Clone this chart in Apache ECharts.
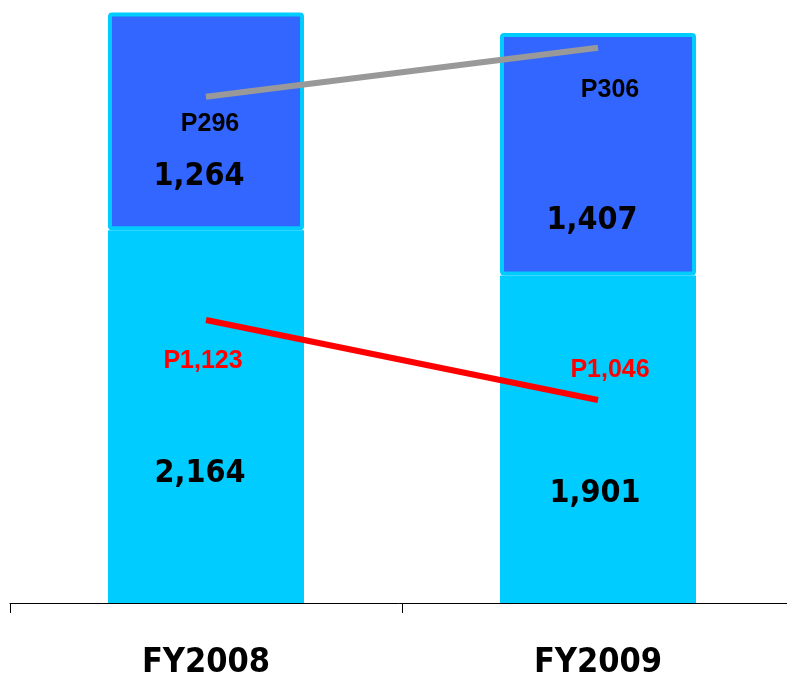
<!DOCTYPE html>
<html>
<head>
<meta charset="utf-8">
<script src="https://cdn.jsdelivr.net/npm/echarts@6/dist/echarts.min.js"></script>
<style>
html,body{margin:0;padding:0;background:#fff;}
#chart{width:787px;height:679px;}
</style>
</head>
<body>
<div id="chart"></div>
<script>
const categories = ['FY2008', 'FY2009'];
const bottomValues = [2164, 1901];
const topValues = [1264, 1407];
const grayLineValues = [296, 306];
const redLineValues = [1123, 1046];

const NARROW = '"DejaVu Sans Condensed", "Liberation Sans Narrow", "Arial Narrow", sans-serif';
const WIDE = '"Liberation Sans", Arial, sans-serif';

const fmt = v => v.toLocaleString('en-US');

const bottomOffsets = [[-6, 57], [-3, 54]];
const topOffsets = [[-7, 55], [-6, 66]];
const grayOffsets = [[4, 27], [12, 42]];
const redOffsets = [[-3, 41], [12, -30]];

const bigLabel = {
  show: true, position: 'inside', color: '#000', fontFamily: NARROW,
  fontWeight: 'bold', fontSize: 32, formatter: p => fmt(p.value)
};

const chart = echarts.init(document.getElementById('chart'));
chart.setOption({
  animation: false,
  grid: { left: 10, width: 784, top: 0, height: 603, outerBoundsMode: 'none', containLabel: false },
  xAxis: {
    type: 'category', data: categories,
    axisLine: { lineStyle: { color: '#000', width: 1 } },
    axisTick: { show: true, length: 10, lineStyle: { color: '#000' } },
    axisLabel: { color: '#000', fontFamily: NARROW, fontWeight: 'bold', fontSize: 34, margin: 43 }
  },
  yAxis: [
    { type: 'value', min: 0, max: 3500, show: false, splitLine: { show: false } },
    { type: 'value', min: 192.7, max: 315.76, show: false, splitLine: { show: false } },
    { type: 'value', min: 850.6, max: 1431, show: false, splitLine: { show: false } }
  ],
  series: [
    {
      type: 'bar', stack: 'total', barWidth: 196, yAxisIndex: 0,
      itemStyle: { color: '#00CCFF', borderColor: '#00CCFF', borderWidth: 4 },
      data: bottomValues.map((v, i) => ({ value: v, label: Object.assign({}, bigLabel, { offset: bottomOffsets[i] }) })),
      label: bigLabel
    },
    {
      type: 'bar', stack: 'total', barWidth: 196, yAxisIndex: 0,
      itemStyle: { color: '#3366FF', borderColor: '#00CCFF', borderWidth: 4, borderRadius: 2 },
      data: topValues.map((v, i) => ({ value: v, label: Object.assign({}, bigLabel, { offset: topOffsets[i] }) })),
      label: bigLabel
    },
    {
      type: 'line', yAxisIndex: 1, symbol: 'circle', symbolSize: 0, showSymbol: true,
      lineStyle: { color: '#999999', width: 6 }, itemStyle: { color: '#999999' },
      data: grayLineValues.map((v, i) => ({ value: v, label: { show: true, position: 'inside', offset: grayOffsets[i],
        color: '#000', fontFamily: WIDE, fontWeight: 'bold', fontSize: 25, formatter: p => 'P' + fmt(p.value) } })),
      z: 5
    },
    {
      type: 'line', yAxisIndex: 2, symbol: 'circle', symbolSize: 0, showSymbol: true,
      lineStyle: { color: '#FF0000', width: 6 }, itemStyle: { color: '#FF0000' },
      data: redLineValues.map((v, i) => ({ value: v, label: { show: true, position: 'inside', offset: redOffsets[i],
        color: '#FF0000', fontFamily: WIDE, fontWeight: 'bold', fontSize: 25, formatter: p => 'P' + fmt(p.value) } })),
      z: 5
    }
  ]
});
</script>
</body>
</html>
